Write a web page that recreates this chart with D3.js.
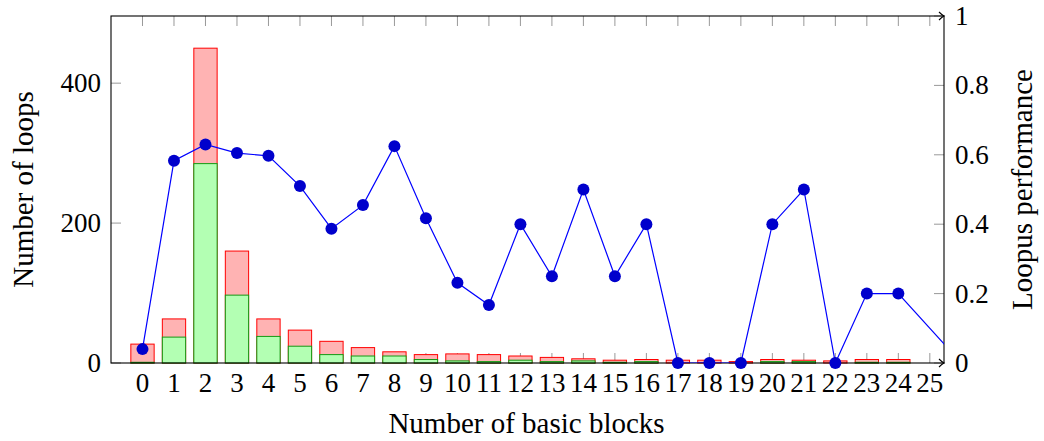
<!DOCTYPE html>
<html>
<head>
<meta charset="utf-8">
<script src="https://cdn.jsdelivr.net/npm/d3@7"></script>
<style>
    body { margin: 0; background: #fff; }
    svg text { font-family: 'Liberation Serif', 'DejaVu Serif', serif; fill: #000; }
</style>
</head>
<body>
<svg id="chart" width="1044" height="441"></svg>
<script>
    // number of basic blocks per loop
    var blocks = d3.range(0, 25);
    var tickLabels = d3.range(0, 26);
    var totalLoops = [27, 63, 450, 160, 63, 47, 31, 22, 16, 12, 13, 12, 10, 8, 6, 4, 5, 4, 4, 2, 5, 4, 3, 5, 5];
    var solvedLoops = [1, 37, 285, 97, 38, 24, 12, 10, 10, 5, 3, 2, 4, 2, 3, 1, 2, 0, 0, 0, 2, 2, 0, 1, 1];
    var perfX = [0, 1, 2, 3, 4, 5, 6, 7, 8, 9, 10, 11, 12, 13, 14, 15, 16, 17, 18, 19, 20, 21, 22, 23, 24, 26];
    var perfY = [0.04, 0.583, 0.63, 0.605, 0.597, 0.51, 0.387, 0.455, 0.625, 0.417, 0.231, 0.167, 0.4, 0.25, 0.5, 0.25, 0.4, 0, 0, 0, 0.4, 0.5, 0, 0.2, 0.2, 0];
    var leftTicks = [0, 200, 400];
    var rightTicks = [0, 0.2, 0.4, 0.6, 0.8, 1];

    (function () {
        'use strict';

        var pLeft = 111, pRight = 944, pTop = 16, pBottom = 363;
        var tickLen = 10;

        var svg = d3.select('#chart');

        var x = d3.scaleLinear().domain([-1, 25.45]).range([pLeft, pRight]);
        var yLeft = d3.scaleLinear().domain([0, 496]).range([pBottom, pTop]);
        var yRight = d3.scaleLinear().domain([0, 1]).range([pBottom, pTop]);
        var barW = 0.74 * (x(1) - x(0));

        svg.append('clipPath').attr('id', 'plotClip')
            .append('rect')
            .attr('x', pLeft).attr('y', pTop)
            .attr('width', pRight - pLeft).attr('height', pBottom - pTop);

        // ticks (drawn first, bars cover them)
        var ticks = svg.append('g').attr('class', 'ticks')
            .attr('stroke', '#999').attr('stroke-width', 1);

        ticks.selectAll('.xb').data(tickLabels).enter().append('line')
            .attr('x1', function (d) { return x(d); }).attr('x2', function (d) { return x(d); })
            .attr('y1', pBottom).attr('y2', pBottom - tickLen);
        ticks.selectAll('.xt').data(tickLabels).enter().append('line')
            .attr('x1', function (d) { return x(d); }).attr('x2', function (d) { return x(d); })
            .attr('y1', pTop).attr('y2', pTop + tickLen);
        ticks.selectAll('.yl').data(leftTicks).enter().append('line')
            .attr('x1', pLeft).attr('x2', pLeft + tickLen)
            .attr('y1', function (d) { return yLeft(d); }).attr('y2', function (d) { return yLeft(d); });
        ticks.selectAll('.yr').data(rightTicks).enter().append('line')
            .attr('x1', pRight - tickLen).attr('x2', pRight)
            .attr('y1', function (d) { return yRight(d); }).attr('y2', function (d) { return yRight(d); });

        // bars: total loops in red, solved loops in green on top
        var bars = svg.append('g').attr('class', 'bars');
        bars.selectAll('.total').data(blocks).enter().append('rect')
            .attr('class', 'total')
            .attr('x', function (d) { return x(d) - barW / 2; })
            .attr('y', function (d) { return yLeft(totalLoops[d]); })
            .attr('width', barW)
            .attr('height', function (d) { return pBottom - yLeft(totalLoops[d]); })
            .style('fill', '#ffb3b3')
            .style('stroke', '#ff0000')
            .style('stroke-width', 1);
        bars.selectAll('.solved').data(blocks.filter(function (d) { return solvedLoops[d] > 0; })).enter().append('rect')
            .attr('class', 'solved')
            .attr('x', function (d) { return x(d) - barW / 2; })
            .attr('y', function (d) { return yLeft(solvedLoops[d]); })
            .attr('width', barW)
            .attr('height', function (d) { return pBottom - yLeft(solvedLoops[d]); })
            .style('fill', '#b3ffb3')
            .style('stroke', '#139a13')
            .style('stroke-width', 1);

        // frame
        var frame = svg.append('g').attr('stroke', '#000').attr('stroke-width', 1.1).attr('fill', 'none');
        frame.append('rect')
            .attr('x', pLeft).attr('y', pTop)
            .attr('width', pRight - pLeft).attr('height', pBottom - pTop);
        [pTop, pBottom].forEach(function (yy) {
            frame.append('path')
                .attr('d', 'M' + (pRight - 5) + ',' + (yy - 4) + ' Q' + (pRight - 2) + ',' + (yy - 1) + ' ' + pRight + ',' + yy +
                    ' Q' + (pRight - 2) + ',' + (yy + 1) + ' ' + (pRight - 5) + ',' + (yy + 4));
        });

        // performance line
        var line = d3.line()
            .x(function (d, i) { return x(perfX[i]); })
            .y(function (d) { return yRight(d); });
        svg.append('path')
            .datum(perfY)
            .attr('clip-path', 'url(#plotClip)')
            .attr('d', line)
            .attr('fill', 'none')
            .attr('stroke', '#0000ff')
            .attr('stroke-width', 1.2);
        svg.append('g').selectAll('circle')
            .data(perfY.map(function (d, i) { return [perfX[i], d]; }).filter(function (p) { return p[0] <= 25; }))
            .enter().append('circle')
            .attr('cx', function (d) { return x(d[0]); })
            .attr('cy', function (d) { return yRight(d[1]); })
            .attr('r', 6)
            .attr('fill', '#0000cc');

        // tick labels
        var fs = 27;
        svg.append('g').selectAll('text').data(tickLabels).enter().append('text')
            .attr('x', function (d) { return x(d); })
            .attr('y', 392)
            .attr('text-anchor', 'middle')
            .style('font-size', fs + 'px')
            .text(function (d) { return d; });
        svg.append('g').selectAll('text').data(leftTicks).enter().append('text')
            .attr('x', 101)
            .attr('y', function (d) { return yLeft(d) + 9; })
            .attr('text-anchor', 'end')
            .style('font-size', fs + 'px')
            .text(function (d) { return d; });
        svg.append('g').selectAll('text').data(rightTicks).enter().append('text')
            .attr('x', 955)
            .attr('y', function (d) { return yRight(d) + 9; })
            .attr('text-anchor', 'start')
            .style('font-size', fs + 'px')
            .text(function (d) { return d; });

        // axis titles
        svg.append('text')
            .attr('x', (pLeft + pRight) / 2 - 1).attr('y', 433)
            .attr('text-anchor', 'middle')
            .style('font-size', '29px')
            .text('Number of basic blocks');
        svg.append('text')
            .attr('transform', 'translate(33,' + (pTop + pBottom) / 2 + ') rotate(-90)')
            .attr('text-anchor', 'middle')
            .style('font-size', '29px')
            .text('Number of loops');
        svg.append('text')
            .attr('transform', 'translate(1032,' + (pTop + pBottom) / 2 + ') rotate(-90)')
            .attr('text-anchor', 'middle')
            .style('font-size', '29px')
            .text('Loopus performance');
    })();
</script>
</body>
</html>
